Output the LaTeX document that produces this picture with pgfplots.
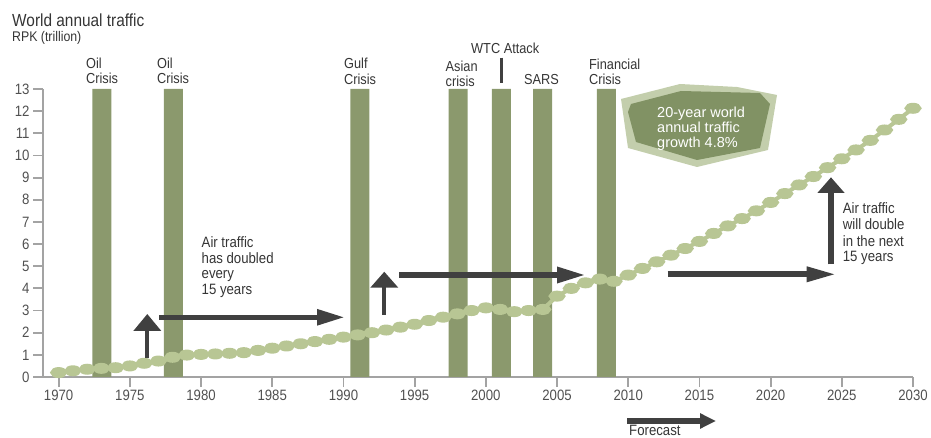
\documentclass[border=0pt]{standalone}
\usepackage{fontspec}
\setmainfont{Liberation Sans}[FakeStretch=0.88]
\newfontfamily\badgefont{Liberation Sans}
\usepackage{pgfplots}
\pgfplotsset{compat=1.18}
\usepackage{pgfplotstable}
\usetikzlibrary{arrows.meta}

\definecolor{barcol}{HTML}{8B996D}
\definecolor{linecol}{HTML}{B8C694}
\definecolor{arrowcol}{HTML}{404040}
\definecolor{axiscol}{HTML}{A3A3A3}
\definecolor{txtcol}{HTML}{353535}
\definecolor{tickcol}{HTML}{505050}
\definecolor{badgedark}{HTML}{819264}
\definecolor{badgelight}{HTML}{C3CEAC}

% World annual traffic, RPK in trillions (history and forecast)
\pgfplotstableread{
year rpk
1970 0.20
1971 0.28
1972 0.35
1973 0.39
1974 0.42
1975 0.50
1976 0.62
1977 0.72
1978 0.89
1979 0.99
1980 1.02
1981 1.04
1982 1.07
1983 1.10
1984 1.20
1985 1.30
1986 1.40
1987 1.50
1988 1.60
1989 1.70
1990 1.80
1991 1.90
1992 2.00
1993 2.12
1994 2.25
1995 2.38
1996 2.55
1997 2.70
1998 2.85
1999 3.00
2000 3.12
2001 3.05
2002 2.95
2003 3.00
2004 3.05
2005 3.65
2006 4.00
2007 4.25
2008 4.42
2009 4.32
2010 4.60
2011 4.90
2012 5.20
2013 5.50
2014 5.80
2015 6.12
2016 6.48
2017 6.82
2018 7.15
2019 7.50
2020 7.88
2021 8.28
2022 8.67
2023 9.05
2024 9.45
2025 9.85
2026 10.25
2027 10.68
2028 11.15
2029 11.63
2030 12.13
}\traffic

% Crisis periods (bar centres)
\pgfplotstableread{
year top
1973.04 13
1978.06 13
1991.16 13
1998.05 13
2001.10 13
2003.98 13
2008.47 13
}\crises

\newcommand\txt[3]{\node[anchor=base west, inner sep=0pt, text=txtcol] at (#1,#2) {#3};}

\begin{document}
\begin{tikzpicture}
\path[use as bounding box] (0,0) rectangle (931bp,438bp);
\begin{axis}[
  at={(43bp,61bp)}, anchor=south west,
  scale only axis, width=870bp, height=288bp,
  xmin=1968.9, xmax=2030, ymin=0, ymax=13,
  axis x line*=bottom, axis y line*=left,
  axis line style={draw=axiscol, line width=2.2bp, -},
  every tick/.style={draw=axiscol, line width=1.8bp},
  tick align=outside, major tick length=10bp,
  xtick={1970,1975,...,2030}, ytick={0,1,...,13},
  minor tick num=0,
  /pgf/number format/assume math mode=true,
  /pgf/number format/1000 sep={},
  xticklabel style={font=\fontsize{15bp}{15bp}\selectfont, text=tickcol},
  yticklabel style={font=\fontsize{15bp}{15bp}\selectfont, text=tickcol},
  clip=false,
]
\addplot[ybar, bar width=19bp, bar shift=0pt, fill=barcol, draw=none]
  table[x=year, y=top] {\crises};
\addplot[linecol, line width=4bp, mark=*, mark size=3.5bp,
  mark options={xscale=1.8, fill=linecol, draw=none}]
  table[x=year, y=rpk] {\traffic};
\end{axis}

\begin{scope}[x=1bp, y=-1bp, shift={(0,438bp)}]
  % titles
  \txt{12}{26.7}{\fontsize{17.5bp}{18bp}\selectfont World annual traffic}
  \txt{12}{42}{\fontsize{14bp}{15bp}\selectfont RPK (trillion)}

  % crisis labels
  \begingroup
  \fontsize{14.5bp}{15bp}\selectfont
  \txt{86}{68.5}{Oil}\txt{86}{84}{Crisis}
  \txt{157}{68.5}{Oil}\txt{157}{84}{Crisis}
  \txt{344}{68.5}{Gulf}\txt{344}{84.5}{Crisis}
  \txt{445.5}{71.5}{Asian}\txt{445.5}{86.5}{crisis}
  \txt{471}{53.5}{WTC Attack}
  \txt{524}{85}{SARS}
  \txt{589}{70}{Financial}\txt{589}{85}{Crisis}
  \endgroup
  \draw[arrowcol, line width=3bp] (501,57.7) -- (501,83.3);

  % growth badge
  \fill[badgelight] (621,99) -- (680,84) -- (737,87) -- (777,95) -- (768,150)
    -- (697,167) -- (628,148) -- cycle;
  \fill[badgedark] (631,104) -- (681,91) -- (760,93) -- (770,104) -- (760,148)
    -- (697,160) -- (636,142) -- (628,112) -- cycle;
  \begingroup
  \badgefont\fontsize{14.5bp}{15bp}\selectfont
  \node[anchor=base west, inner sep=0pt, text=white] at (657,117.3) {20-year world};
  \node[anchor=base west, inner sep=0pt, text=white] at (657,132.6) {annual traffic};
  \node[anchor=base west, inner sep=0pt, text=white] at (657,147.8) {growth 4.8\%};
  \endgroup

  % arrows
  \draw[arrowcol, line width=4bp, -{Triangle[length=17bp, width=27bp]}]
    (147.3,358) -- (147.3,314);
  \draw[arrowcol, line width=5.5bp, -{Triangle[length=28bp, width=15bp]}]
    (159,317.3) -- (345,317.3);
  \draw[arrowcol, line width=4.3bp, -{Triangle[length=16bp, width=27bp]}]
    (384.3,315) -- (384.3,271.7);
  \draw[arrowcol, line width=6bp, -{Triangle[length=29bp, width=15bp]}]
    (399,275) -- (586,275);
  \draw[arrowcol, line width=6bp, -{Triangle[length=30bp, width=14bp]}]
    (667.7,274.3) -- (836.7,274.3);
  \draw[arrowcol, line width=5.5bp, -{Triangle[length=15.5bp, width=26bp]}]
    (831,264.3) -- (831,177.3);
  \draw[arrowcol, line width=5.5bp, -{Triangle[length=16bp, width=14.5bp]}]
    (627,421) -- (716,421);

  % annotations
  \begingroup
  \fontsize{15bp}{16bp}\selectfont
  \txt{201.5}{247.5}{Air traffic}
  \txt{201.5}{263.3}{has doubled}
  \txt{201.5}{279}{every}
  \txt{201.5}{295}{15 years}
  \txt{842.7}{214}{Air traffic}
  \txt{842.7}{230}{will double}
  \txt{842.7}{246.5}{in the next}
  \txt{842.7}{262}{15 years}
  \txt{629}{435.5}{Forecast}
  \endgroup
\end{scope}
\end{tikzpicture}
\end{document}
